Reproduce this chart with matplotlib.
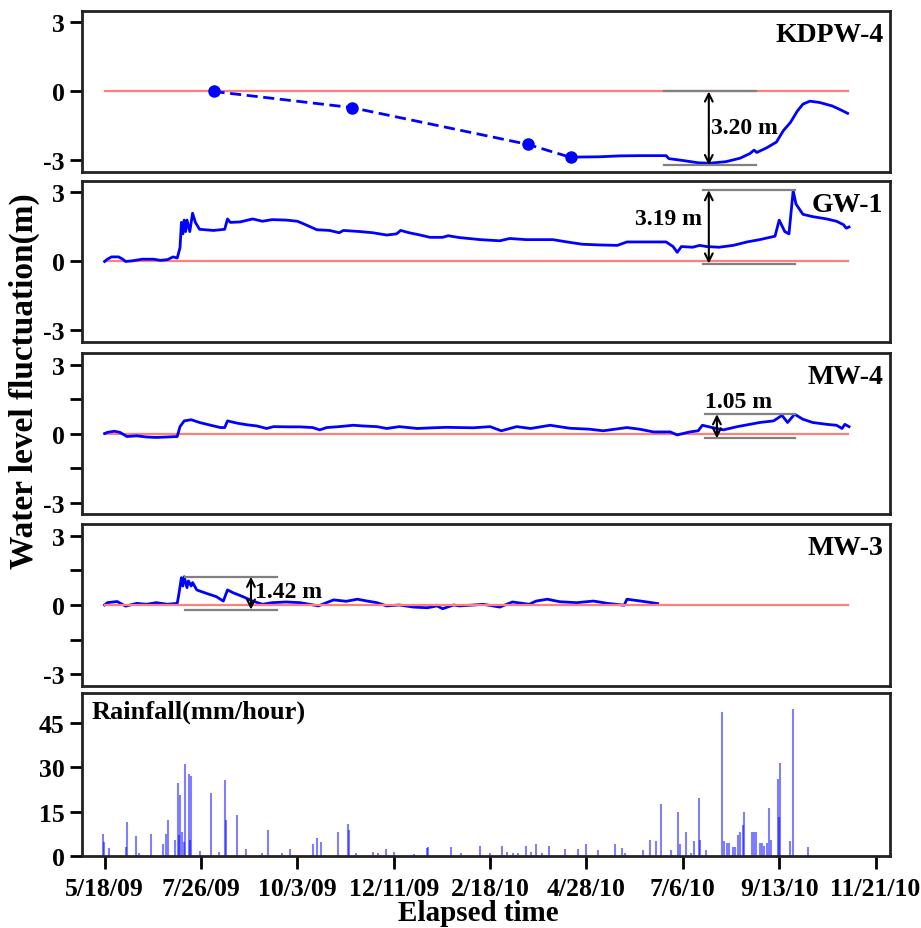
import matplotlib.pyplot as plt
import pandas as pd

plt.rcParams['font.family'] = ['Liberation Serif', 'DejaVu Serif']
plt.rcParams['font.weight'] = 'bold'
plt.rcParams['axes.unicode_minus'] = False

start = pd.Timestamp('2009-05-18')
x_ticklabels = ['5/18/09', '7/26/09', '10/3/09', '12/11/09', '2/18/10',
                '4/28/10', '7/6/10', '9/13/10', '11/21/10']

# All x values are days since 5/18/09
kdpw_manual_day = [78, 177, 303, 334]
kdpw_manual_level = [0.0, -0.7, -2.3, -2.87]
kdpw_day = [334, 340, 354, 369, 383, 402, 404, 414, 425, 433, 445, 455, 462,
            465, 467, 474, 481, 486, 491, 496, 500, 505, 512, 521, 526, 532]
kdpw_level = [-2.87, -2.85, -2.84, -2.8, -2.79, -2.79, -2.92, -3.0, -3.1, -3.12,
              -3.05, -2.9, -2.7, -2.55, -2.65, -2.45, -2.2, -1.7, -1.35, -0.85,
              -0.55, -0.42, -0.48, -0.63, -0.77, -0.95]

gw1_day = [0, 2, 5, 10, 13, 15, 20, 27, 35, 40, 45, 49, 52, 54, 55, 56, 57, 58,
           59, 61, 63, 65, 68, 78, 86, 88, 90, 97, 106, 113, 120, 130, 138, 142,
           152, 161, 168, 171, 183, 192, 202, 209, 212, 218, 226, 233, 242, 246,
           254, 269, 283, 290, 302, 321, 331, 342, 354, 367, 374, 388, 402, 407,
           410, 413, 421, 426, 431, 440, 450, 460, 469, 480, 483, 487, 490, 493,
           495, 500, 507, 517, 524, 529, 531, 533]
gw1_level = [0.0, 0.1, 0.2, 0.2, 0.1, 0.0, 0.03, 0.1, 0.1, 0.05, 0.08, 0.2,
             0.15, 0.6, 1.7, 1.2, 1.8, 1.3, 1.8, 1.3, 2.1, 1.7, 1.4, 1.35, 1.4,
             1.85, 1.7, 1.72, 1.85, 1.75, 1.82, 1.8, 1.75, 1.65, 1.38, 1.35, 1.25,
             1.35, 1.3, 1.25, 1.15, 1.2, 1.35, 1.25, 1.15, 1.05, 1.05, 1.12, 1.04,
             0.95, 0.9, 1.0, 0.95, 0.95, 0.85, 0.75, 0.72, 0.7, 0.85, 0.85, 0.85,
             0.65, 0.4, 0.65, 0.62, 0.7, 0.65, 0.62, 0.7, 0.85, 0.95, 1.1, 1.8,
             1.3, 1.2, 3.08, 2.5, 2.05, 1.95, 1.85, 1.75, 1.6, 1.45, 1.5]

mw4_day = [0, 2, 7, 11, 16, 23, 30, 37, 45, 52, 54, 57, 62, 68, 76, 83, 86, 88,
           95, 102, 109, 116, 121, 133, 140, 149, 154, 159, 168, 178, 185, 195,
           202, 211, 224, 235, 245, 254, 264, 276, 284, 295, 305, 319, 333, 347,
           357, 374, 383, 393, 405, 410, 419, 425, 428, 435, 443, 453, 462, 469,
           479, 485, 489, 494, 500, 507, 517, 524, 528, 530, 533]
mw4_level = [0.0, 0.05, 0.1, 0.05, -0.13, -0.1, -0.15, -0.17, -0.15, -0.13, 0.3,
             0.55, 0.6, 0.48, 0.36, 0.26, 0.26, 0.55, 0.45, 0.38, 0.33, 0.22, 0.3,
             0.29, 0.29, 0.26, 0.16, 0.26, 0.3, 0.36, 0.33, 0.3, 0.22, 0.3, 0.22,
             0.25, 0.27, 0.26, 0.25, 0.3, 0.12, 0.3, 0.22, 0.36, 0.23, 0.19, 0.12,
             0.26, 0.19, 0.07, 0.07, -0.06, 0.07, 0.12, 0.36, 0.26, 0.16, 0.3, 0.4,
             0.48, 0.55, 0.79, 0.48, 0.84, 0.62, 0.48, 0.4, 0.36, 0.22, 0.4, 0.3]

mw3_day = [0, 2, 9, 15, 23, 30, 37, 45, 52, 53, 55, 56, 57, 59, 60, 62, 63, 66,
           73, 80, 85, 88, 92, 99, 106, 113, 120, 130, 140, 153, 164, 173, 181,
           188, 195, 202, 211, 221, 231, 238, 242, 250, 254, 262, 271, 283, 292,
           304, 309, 317, 326, 338, 350, 360, 372, 374, 385, 396]
mw3_level = [0.0, 0.1, 0.15, -0.05, 0.07, 0.03, 0.1, 0.03, 0.07, 0.4, 1.18, 0.82,
             1.22, 0.75, 1.04, 0.82, 0.97, 0.65, 0.5, 0.36, 0.17, 0.65, 0.53,
             0.36, 0.17, 0.03, 0.1, 0.13, 0.1, -0.04, 0.22, 0.16, 0.25, 0.17, 0.1,
             -0.04, 0.0, -0.09, -0.12, -0.04, -0.16, 0.0, -0.04, -0.01, 0.03,
             -0.09, 0.13, 0.03, 0.17, 0.25, 0.14, 0.1, 0.17, 0.07, -0.01, 0.25,
             0.16, 0.06]

rain_day = [-1.4, -0.5, 3.1, 15.5, 16, 22.4, 24.6, 33.1, 41.7, 43.9, 45.3, 50.3,
            52.5, 53.2, 53.9, 55.3, 56.8, 57.5, 60.3, 61.0, 61.8, 68.2, 76.1,
            81.8, 86.1, 86.8, 94.7, 101.1, 112.6, 116.9, 126.9, 132.6, 149, 152,
            154.8, 167, 174.2, 175, 180, 192.1, 195.6, 201.4, 207, 221.4, 230.7,
            231.4, 247.9, 255, 268.6, 275.8, 284.4, 288, 292.3, 295.9, 301.6,
            305.2, 308.8, 313.1, 318.1, 329.6, 338.9, 344.6, 353.2, 365.4, 370.4,
            372.6, 385.4, 390.4, 394.7, 398.3, 405.4, 410.4, 411.9, 416.2, 419.8,
            421.9, 425.5, 426.2, 430.5, 442, 443.4, 445.6, 447, 449.7, 451.2,
            453.3, 454.8, 456.9, 457.6, 463.4, 464.8, 466.2, 469.1, 470.5, 471.9,
            474.1, 475.5, 476.9, 482.2, 482.6, 483.6, 490.7, 492.8, 503.6]
rain_mm = [7.5, 4.7, 2.7, 3.0, 11.6, 6.9, 1.0, 7.4, 4.0, 7.3, 12.2, 5.5, 24.7,
           7.0, 20.7, 8.0, 4.7, 30.9, 27.5, 5.5, 27.0, 1.8, 21.4, 1.2, 25.5, 12.0,
           14.0, 2.5, 1.0, 8.9, 1.0, 2.5, 4.0, 6.0, 4.7, 8.0, 10.8, 8.8, 1.0, 1.3,
           1.0, 2.5, 1.3, 0.6, 2.8, 3.0, 3.0, 1.0, 3.3, 1.0, 3.3, 1.5, 1.0, 1.0,
           3.3, 1.5, 4.0, 1.0, 3.3, 2.4, 2.4, 4.0, 2.0, 4.0, 2.6, 1.0, 2.0, 5.3,
           5.0, 17.6, 2.0, 14.9, 4.0, 8.2, 1.0, 5.0, 19.7, 5.5, 2.0, 48.5, 5.0,
           4.5, 4.5, 3.0, 3.0, 7.1, 8.0, 10.5, 14.9, 8.0, 8.0, 8.0, 4.5, 4.3, 3.4,
           4.5, 16.3, 5.5, 26.1, 13.0, 31.5, 5.0, 49.6, 3.0]

# reference line at zero level
ref_day = [0, 532]

# fluctuation brackets: label, day span of the guide lines, arrow day, low, high
kdpw_bracket = ('3.20 m', (400.6, 466.3), 432.6, -3.20, 0.0)
gw1_bracket = ('3.19 m', (428.5, 494.0), 432.6, -0.09, 3.10)
mw4_bracket = ('1.05 m', (430.0, 494.0), 438.4, -0.21, 0.84)
mw3_bracket = ('1.42 m', (57.5, 123.4), 104.8, -0.20, 1.22)

tick_days = [(pd.to_datetime(t, format='%m/%d/%y') - start).days for t in x_ticklabels]

fig = plt.figure(figsize=(9.21, 9.29), dpi=100)
left, width = 0.089, 0.8773
bottoms = [0.8138, 0.6308, 0.4456, 0.2605, 0.0775]
heights = [0.1733, 0.1733, 0.1733, 0.1744, 0.1755]
axes = [fig.add_axes([left, b, width, h]) for b, h in zip(bottoms, heights)]
xlim = (-16.2, 562.3)

blue = '#0000ff'
red = '#ff7f7f'
gray = '#808080'


def style(ax):
    for s in ax.spines.values():
        s.set_linewidth(2)
        s.set_color('#222222')
    ax.tick_params(direction='out', length=9, width=2, labelsize=18.5)
    ax.set_xlim(*xlim)


def bracket(ax, info, text_x, text_y, ha, va='center'):
    label, (x0, x1), xa, lo, hi = info
    ax.plot([x0, x1], [lo, lo], color=gray, lw=1.6, zorder=4)
    ax.plot([x0, x1], [hi, hi], color=gray, lw=1.6, zorder=4)
    ax.annotate('', xy=(xa, lo), xytext=(xa, hi),
                arrowprops=dict(arrowstyle='<->', color='black', lw=1.5,
                                mutation_scale=14, shrinkA=0, shrinkB=0),
                zorder=5)
    ax.text(text_x, text_y, label, ha=ha, va=va, fontsize=17,
            fontweight='bold', zorder=6)


names = ['KDPW-4', 'GW-1', 'MW-4', 'MW-3']
for i, ax in enumerate(axes[:4]):
    style(ax)
    ax.set_ylim(-3.5, 3.5)
    ax.set_yticks([-3, 0, 3])
    ax.set_xticks([])
    if i >= 2:
        ax.set_yticks([-1.5, 1.5], minor=True)
        ax.tick_params(which='minor', direction='out', length=9, width=2)
    ax.text(0.992, 0.93, names[i], transform=ax.transAxes, ha='right',
            va='top', fontsize=20, fontweight='bold')

ax1, ax2, ax3, ax4, ax5 = axes

ax1.plot(ref_day, [0, 0], color=red, lw=1.6, zorder=1)
ax1.plot(kdpw_manual_day, kdpw_manual_level, color=blue, lw=2, ls=(0, (4, 2)),
         marker='o', ms=8, zorder=3)
ax1.plot(kdpw_day, kdpw_level, color=blue, lw=2, zorder=3)
bracket(ax1, kdpw_bracket, 434, -1.55, 'left')

ax2.plot(ref_day, [0, 0], color=red, lw=1.6, zorder=1)
ax2.plot(gw1_day, gw1_level, color=blue, lw=2, zorder=3)
bracket(ax2, gw1_bracket, 428, 1.87, 'right')

ax3.plot(ref_day, [0, 0], color=red, lw=1.6, zorder=1)
ax3.plot(mw4_day, mw4_level, color=blue, lw=2, zorder=3)
bracket(ax3, mw4_bracket, 430, 0.95, 'left', va='bottom')

ax4.plot(mw3_day, mw3_level, color=blue, lw=2, zorder=2)
ax4.plot(ref_day, [0, 0], color=red, lw=1.6, zorder=3)
bracket(ax4, mw3_bracket, 107.5, 0.6, 'left')

# rainfall panel
style(ax5)
ax5.vlines(rain_day, 0, rain_mm, color=blue, alpha=0.5, lw=1.5)
ax5.set_ylim(0, 55)
ax5.set_yticks([0, 15, 30, 45])
ax5.set_xticks(tick_days)
ax5.set_xticklabels(x_ticklabels)
ax5.tick_params(axis='x', pad=6)
ax5.text(0.012, 0.96, 'Rainfall(mm/hour)', transform=ax5.transAxes,
         ha='left', va='top', fontsize=19, fontweight='bold')

for ax in axes:
    for lab in ax.get_yticklabels() + ax.get_xticklabels():
        lab.set_fontweight('bold')

fig.text(0.027, 0.59, 'Water level fluctuation(m)', rotation=90,
         ha='center', va='center', fontsize=24, fontweight='bold')
fig.text(0.519, 0.017, 'Elapsed time', ha='center', va='center',
         fontsize=21, fontweight='bold')

fig.savefig('out.png', dpi=100)
